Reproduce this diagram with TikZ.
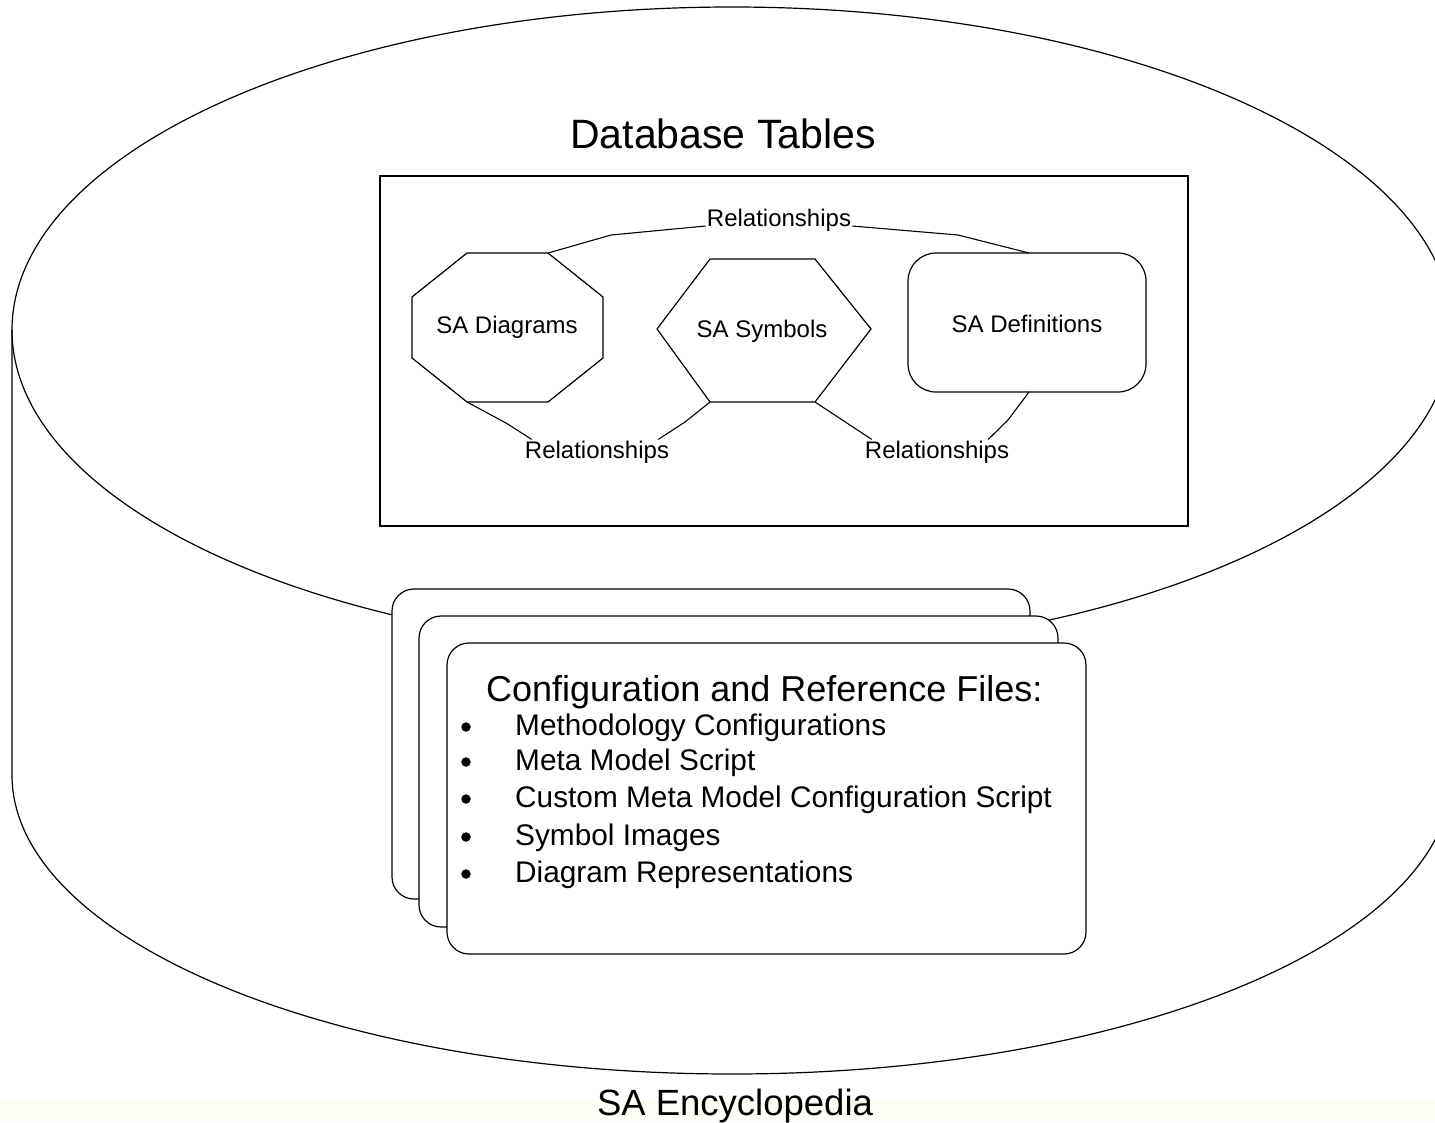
\documentclass[tikz,border=0pt]{standalone}
\usepackage{fontspec}
\setmainfont{Liberation Sans}
\definecolor{cream}{RGB}{255,254,246}
\tikzset{
  outline/.style={draw=black, line width=1.2pt},
  card/.style={draw=black, line width=1.2pt, fill=white, rounded corners=22pt},
  lbl/.style={inner sep=1pt, font=\fontsize{24}{28}\selectfont},
  itemtxt/.style={inner sep=0pt, anchor=base west, font=\fontsize{29.8}{34}\selectfont},
  bulletdot/.style={circle, fill=black, inner sep=0pt, minimum size=9.5pt},
  conn/.style={draw=black, line width=1.1pt}
}
\begin{document}
\begin{tikzpicture}[x=1pt, y=-1pt]
\useasboundingbox (0,0) rectangle (1435,1122);
\fill[white] (0,0) rectangle (1435,1122);
\fill[cream] (0,1100) rectangle (1435,1122);

% cylinder
\draw[outline] (12,330) -- (12,775)
  arc[start angle=180, end angle=360, x radius=720pt, y radius=299pt]
  -- (1452,330);
\draw[outline] (732,330) ellipse [x radius=720pt, y radius=323pt];

\node[anchor=base, inner sep=0pt, font=\fontsize{41}{48}\selectfont] (dbt) at (723,148) {Database Tables};

% inner rectangle
\draw[outline] (380,176) rectangle (1188,526);

% octagon SA Diagrams
\coordinate (o1) at (467,253);
\coordinate (o2) at (548,253);
\coordinate (o3) at (603,297);
\coordinate (o4) at (603,358);
\coordinate (o5) at (548,402);
\coordinate (o6) at (467,402);
\coordinate (o7) at (412,358);
\coordinate (o8) at (412,297);
\draw[outline] (o1) -- (o2) -- (o3) -- (o4) -- (o5) -- (o6) -- (o7) -- (o8) -- cycle;

% hexagon SA Symbols
\coordinate (h1) at (710,259);
\coordinate (h2) at (815,259);
\coordinate (h3) at (871,329);
\coordinate (h4) at (815,402);
\coordinate (h5) at (710,402);
\coordinate (h6) at (657,329);
\draw[outline] (h1) -- (h2) -- (h3) -- (h4) -- (h5) -- (h6) -- cycle;

% rounded rectangle SA Definitions
\draw[outline, rounded corners=28pt] (908,253) rectangle (1146,392);
\coordinate (dtop) at (1029,253);
\coordinate (dbot) at (1029,392);

\node[lbl, anchor=base] (tdiag) at (507,333) {SA Diagrams};
\node[lbl, anchor=base] (tsym) at (762,337) {SA Symbols};
\node[lbl, anchor=base] (tdef) at (1027,332) {SA Definitions};

\node[lbl, anchor=base] (rtop) at (779,226) {Relationships};
\node[lbl, anchor=base] (rbl) at (597,458) {Relationships};
\node[lbl, anchor=base] (rbr) at (937,458) {Relationships};

\draw[conn] (o2) -- (611,235) -- (rtop.base west);
\draw[conn] (rtop.base east) -- (958,235) -- (dtop);
\draw[conn] (o6) -- (506,423) -- ([xshift=8pt]rbl.north west);
\draw[conn] ([xshift=-12pt]rbl.north east) -- (685,422) -- (h5);
\draw[conn] (h4) -- ([xshift=8pt]rbr.north west);
\draw[conn] ([xshift=-22pt]rbr.north east) -- (1008,420) -- (dbot);

% stacked cards
\draw[card] (392,589) rectangle (1030,899);
\draw[card] (419,616) rectangle (1058,927);
\draw[card] (447,643) rectangle (1086,954);

\node[anchor=base west, inner sep=0pt, font=\fontsize{36}{42}\selectfont] (cfg) at (486,701) {Configuration and Reference Files:};

\node[itemtxt] (i1) at (515,735) {Methodology Configurations};
\node[itemtxt] (i2) at (515,770) {Meta Model Script};
\node[itemtxt] (i3) at (515,807) {Custom Meta Model Configuration Script};
\node[itemtxt] (i4) at (515,845) {Symbol Images};
\node[itemtxt] (i5) at (515,882) {Diagram Representations};
\node[bulletdot] (b1) at (466,727) {};
\node[bulletdot] (b2) at (466,762) {};
\node[bulletdot] (b3) at (466,799) {};
\node[bulletdot] (b4) at (466,837) {};
\node[bulletdot] (b5) at (466,874) {};

\node[anchor=base, inner sep=0pt, font=\fontsize{36.5}{42}\selectfont] (enc) at (735,1115) {SA Encyclopedia};
\end{tikzpicture}
\end{document}
